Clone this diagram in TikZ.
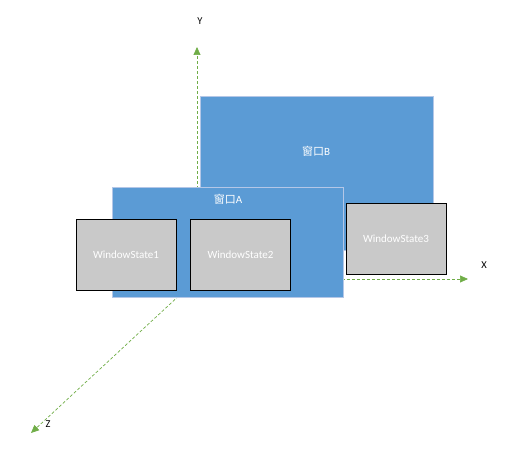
\documentclass[tikz,border=0pt]{standalone}
\usepackage{fontspec}
\setmainfont{Carlito}
\newfontfamily\cjk{Noto Sans CJK SC}
\usetikzlibrary{arrows.meta}
\definecolor{winblue}{HTML}{5B9BD5}
\definecolor{winedge}{HTML}{B4C7E7}
\definecolor{stategray}{HTML}{C9C9C9}
\definecolor{axisgreen}{HTML}{70AD47}
\tikzset{
  window/.style={draw=winedge, fill=winblue, line width=0.8pt, inner sep=0pt},
  winstate/.style={draw=black, fill=stategray, line width=0.8pt, minimum width=100pt, minimum height=71pt, inner sep=0pt, text=white, font=\fontsize{11}{13}\selectfont},
  wintitle/.style={text=white, font=\fontsize{11}{13}\selectfont},
  axis/.style={axisgreen, dashed, dash pattern=on 3pt off 2pt, line width=0.7pt, -{Triangle[length=8pt,width=7pt]}},
  axislabel/.style={font=\fontsize{10.5}{12}\selectfont}
}
\begin{document}
\begin{tikzpicture}[x=1pt, y=-1pt]
    \useasboundingbox (0,0) rectangle (509,449);

    % Axes
    \coordinate (origin) at (197,279);
    \coordinate (yend) at (197,47);
    \coordinate (xend) at (468,279);
    \coordinate (zend) at (31,433);
    \draw[axis] (origin) -- (yend);
    \draw[axis] (origin) -- (xend);
    \draw[axis] (origin) -- (zend);
    \node[axislabel] (ylabel) at (200,21) {Y};
    \node[axislabel] (xlabel) at (484,265) {X};
    \node[axislabel] (zlabel) at (48,424) {Z};

    % Window B
    \draw[window] (200,96) rectangle (433,250);
    \node[wintitle] (titleB) at (316,151) {{\cjk 窗口}B};

    % Window A
    \draw[window] (112,187) rectangle (343,297);
    \node[wintitle] (titleA) at (228,199) {{\cjk 窗口}A};

    % Window states
    \node[winstate] (state1) at (126,254.5) {WindowState1};
    \node[winstate] (state2) at (240.5,254.5) {WindowState2};
    \node[winstate] (state3) at (396,239) {WindowState3};
\end{tikzpicture}
\end{document}
